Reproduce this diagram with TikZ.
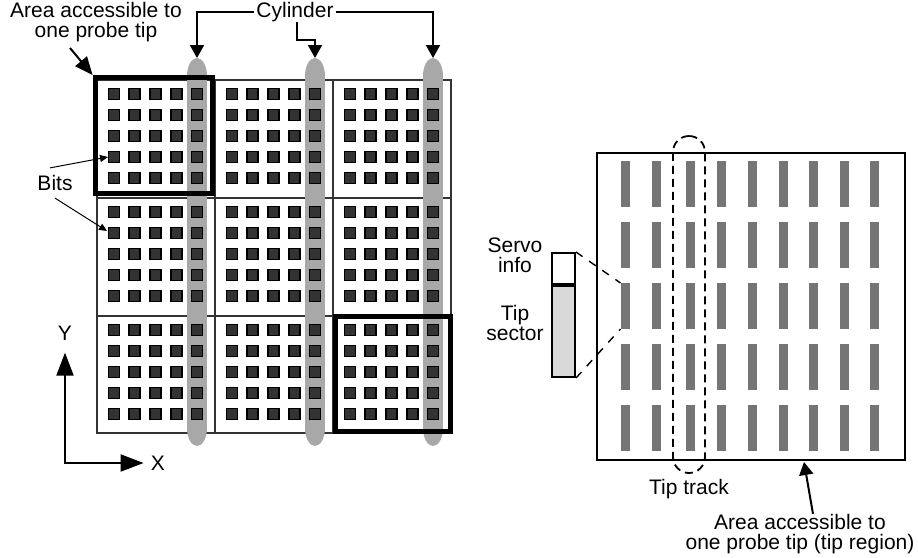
\documentclass[tikz,border=0pt]{standalone}
\usepackage{fontspec}
\setmainfont{Liberation Sans}
\usetikzlibrary{arrows.meta}

\tikzset{
  lbl/.style={inner sep=0pt, align=center, font=\fontsize{10.5}{10}\selectfont},
  tipbox/.style={draw, line width=2.5pt, inner sep=0pt},
  bigtip/.style={-{Triangle[length=9pt,width=7.5pt]}, line width=1pt},
  midtip/.style={-{Triangle[length=6.5pt,width=7pt]}, line width=1pt},
  smalltip/.style={-{Triangle[length=4pt,width=3.5pt]}, line width=0.5pt},
  axes/.style={{Triangle[length=11.5pt,width=8.5pt]}-{Triangle[length=11.5pt,width=8.5pt]}, line width=1pt},
  gridline/.style={line width=0.7pt, black!80},
}

\begin{document}
\begin{tikzpicture}[x=0.5pt,y=-0.5pt]
  \useasboundingbox (0,0) rectangle (918,558);

  % grid of tip areas
  \draw[gridline] (97,80) rectangle (451,433);
  \foreach \p in {215,333} {
    \draw[gridline] (\p,80) -- (\p,433);
    \draw[gridline] (97,\p-17) -- (451,\p-17);
  }

  % cylinders
  \foreach \cx in {197,315,433} {
    \fill[black!34] (\cx-10,76) rectangle (\cx+10,428);
    \fill[black!34] (\cx,76) ellipse (10 and 18);
    \fill[black!34] (\cx,428) ellipse (10 and 18);
  }

  % bits
  \foreach \i in {0,1,2}
    \foreach \j in {0,1,2}
      \foreach \a in {0,...,4}
        \foreach \b in {0,...,4}
          \filldraw[fill=black!80, draw=black, line width=0.8pt]
            ({97+118*\i+11.5+20.75*\a},{80+118*\j+8.5+21*\b}) rectangle +(11,11);

  \node[tipbox, minimum width=58.8pt, minimum height=58.2pt] (area1) at (153.9,135.7) {};
  \node[tipbox, minimum width=57.6pt, minimum height=57.8pt] (area2) at (392.6,373.8) {};

  \node[lbl] (area) at (96,22) {Area accessible to\\one probe tip};
  \coordinate (a0) at (70,48);
  \draw[bigtip] (a0) -- (area1.north west);

  \node[lbl] (cyl) at (295,12) {Cylinder};
  \coordinate (c1) at (197,58);
  \coordinate (c2) at (315,58);
  \coordinate (c3) at (433,58);
  \draw[midtip] ([xshift=-1pt]cyl.west) -| (c1);
  \draw[midtip] ([xshift=1pt]cyl.east) -| (c3);
  \draw[midtip] ([xshift=1pt]cyl.south) -- ++(0,18) -| (c2);

  \node[lbl] (bits) at (55,183) {Bits};
  \coordinate (b1) at (108,157);
  \coordinate (b2) at (107,231);
  \draw[smalltip] ([shift={(-2.5pt,3.5pt)}]bits.north) -- (b1);
  \draw[smalltip] ([shift={(0pt,-3.5pt)}]bits.south) -- (b2);

  % axes
  \coordinate (o) at (65,463);
  \node[lbl] (ylbl) at (65,333) {Y};
  \node[lbl] (xlbl) at (158,463) {X};
  \draw[axes] ([yshift=-6pt]ylbl.south) -- (o) -- ([xshift=-3.5pt]xlbl.west);

  % tip region
  \node[draw, line width=1pt, minimum width=154pt, minimum height=153.5pt, inner sep=0pt] (region) at (751,306.5) {};
  \foreach \cx in {625,656,690,721,752,783,813,844,874}
    \foreach \r in {0,...,4}
      \fill[black!54] (\cx-4.5,{161+61*\r}) rectangle +(9,46);

  \node[draw, dash pattern=on 4pt off 2.5pt, line width=0.9pt, rounded corners=8pt,
        minimum width=16pt, minimum height=168.5pt, inner sep=0pt] (track) at (689,304.5) {};
  \node[lbl, anchor=north] (tracklbl) at ([yshift=-2.5pt]track.south) {Tip track};

  % servo info and sector
  \node[draw, fill=white, line width=1pt, minimum width=11.5pt, minimum height=15.5pt, inner sep=0pt] (servo) at (563.5,268.5) {};
  \node[draw, fill=black!15, line width=1pt, minimum width=11.5pt, minimum height=45.5pt, inner sep=0pt, anchor=north] (sector) at (servo.south) {};
  \node[lbl] (servolbl) at (515,255) {Servo\\info};
  \node[lbl] (sectorlbl) at (515,323) {Tip\\sector};
  \coordinate (s1) at (620.5,283);
  \coordinate (s2) at (620.5,329);
  \draw[dash pattern=on 4pt off 4pt, line width=0.7pt] (servo.north east) -- (s1);
  \draw[dash pattern=on 4pt off 4pt, line width=0.7pt] (sector.south east) -- (s2);

  \node[lbl] (reglbl) at (800,534) {Area accessible to\\one probe tip (tip region)};
  \coordinate (r0) at (804,462);
  \draw[midtip] ([xshift=6.5pt]reglbl.north) -- (r0);
\end{tikzpicture}
\end{document}
